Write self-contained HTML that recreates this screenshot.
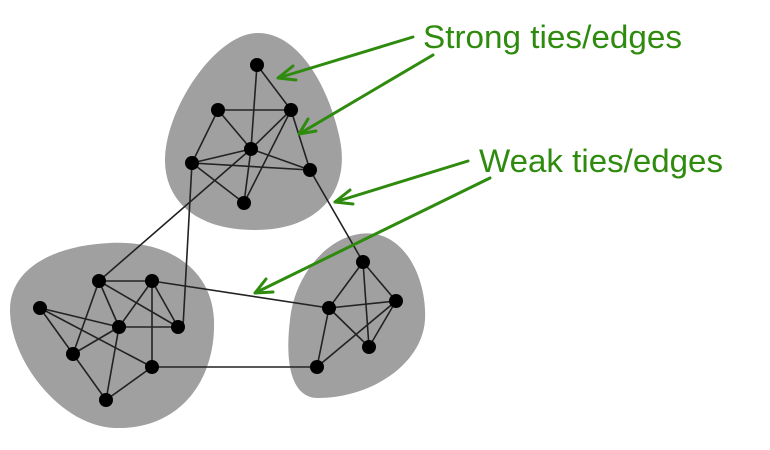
<!DOCTYPE html>
<html><head><style>
html,body{margin:0;padding:0;background:#fff;width:770px;height:450px;overflow:hidden}
svg{display:block}
text{font-family:"Liberation Sans",Arial,sans-serif;fill:#2e8b0e;font-size:32.5px}
</style></head><body>
<svg width="770" height="450" viewBox="0 0 770 450">
<g fill="#a0a0a0">
<path d="M258,33 C300,33 330,90 340,140 C350,190 320,230 255,230 C195,230 165,200 165,160 C165,110 215,33 258,33 Z"/>
<path d="M110,243 C170,240 212,270 214,320 C216,380 180,430 115,428 C60,426 10,360 10,310 C10,265 60,245 110,243 Z"/>
<path d="M375,234 C410,240 427,285 425,320 C422,365 370,398 318,398 C290,398 285,360 290,320 C295,270 335,228 375,234 Z"/>
</g>
<g stroke="#222" stroke-width="1.6" fill="none">
<line x1="257" y1="65" x2="251" y2="149"/><line x1="257" y1="65" x2="291" y2="110"/>
<line x1="218" y1="110" x2="291" y2="110"/><line x1="218" y1="110" x2="192" y2="163"/>
<line x1="218" y1="110" x2="251" y2="149"/><line x1="291" y1="110" x2="251" y2="149"/>
<line x1="291" y1="110" x2="310" y2="170"/><line x1="291" y1="110" x2="244" y2="203"/>
<line x1="192" y1="163" x2="251" y2="149"/><line x1="192" y1="163" x2="310" y2="170"/>
<line x1="192" y1="163" x2="244" y2="203"/><line x1="251" y1="149" x2="310" y2="170"/>
<line x1="251" y1="149" x2="244" y2="203"/>
<line x1="251" y1="149" x2="99" y2="281"/><line x1="192" y1="163" x2="183" y2="327"/>
<line x1="310" y1="170" x2="363" y2="262"/>
<line x1="99" y1="281" x2="152" y2="281"/><line x1="99" y1="281" x2="119" y2="327"/>
<line x1="99" y1="281" x2="178" y2="327"/><line x1="99" y1="281" x2="73" y2="354"/>
<line x1="152" y1="281" x2="119" y2="327"/><line x1="152" y1="281" x2="178" y2="327"/>
<line x1="152" y1="281" x2="152" y2="367"/><line x1="40" y1="308" x2="119" y2="327"/>
<line x1="40" y1="308" x2="152" y2="367"/><line x1="40" y1="308" x2="73" y2="354"/>
<line x1="119" y1="327" x2="178" y2="327"/><line x1="119" y1="327" x2="73" y2="354"/>
<line x1="119" y1="327" x2="106" y2="400"/><line x1="73" y1="354" x2="106" y2="400"/>
<line x1="152" y1="367" x2="106" y2="400"/>
<line x1="152" y1="281" x2="329" y2="308"/><line x1="152" y1="367" x2="317" y2="367"/>
<line x1="363" y1="262" x2="329" y2="308"/><line x1="363" y1="262" x2="396" y2="301"/>
<line x1="363" y1="262" x2="369" y2="347"/><line x1="329" y1="308" x2="396" y2="301"/>
<line x1="329" y1="308" x2="369" y2="347"/><line x1="329" y1="308" x2="317" y2="367"/>
<line x1="396" y1="301" x2="369" y2="347"/><line x1="396" y1="301" x2="317" y2="367"/>
</g>
<g fill="#000">
<circle cx="257" cy="65" r="7"/><circle cx="218" cy="110" r="7"/><circle cx="291" cy="110" r="7"/>
<circle cx="251" cy="149" r="7"/><circle cx="192" cy="163" r="7"/><circle cx="310" cy="170" r="7"/>
<circle cx="244" cy="203" r="7"/>
<circle cx="40" cy="308" r="7"/><circle cx="99" cy="281" r="7"/><circle cx="152" cy="281" r="7"/>
<circle cx="119" cy="327" r="7"/><circle cx="178" cy="327" r="7"/><circle cx="73" cy="354" r="7"/>
<circle cx="152" cy="367" r="7"/><circle cx="106" cy="400" r="7"/>
<circle cx="363" cy="262" r="7"/><circle cx="329" cy="308" r="7"/><circle cx="396" cy="301" r="7"/>
<circle cx="369" cy="347" r="7"/><circle cx="317" cy="367" r="7"/>
</g>
<g stroke="#2e8b0e" stroke-width="3" fill="none" stroke-linecap="round" stroke-linejoin="round">
<line x1="413" y1="37" x2="278" y2="78"/><polyline points="293,66 278,78 296,80"/>
<line x1="433" y1="55" x2="299" y2="134"/><polyline points="308,119 299,134 316,131"/>
<line x1="468" y1="161" x2="335" y2="202"/><polyline points="350,190 335,202 353,204"/>
<line x1="490" y1="178" x2="255" y2="293"/><polyline points="266,279 255,293 273,292"/>
</g>
<text x="423" y="48" textLength="259" lengthAdjust="spacingAndGlyphs">Strong ties/edges</text>
<text x="479" y="172" textLength="244" lengthAdjust="spacingAndGlyphs">Weak ties/edges</text>
</svg>
</body></html>
